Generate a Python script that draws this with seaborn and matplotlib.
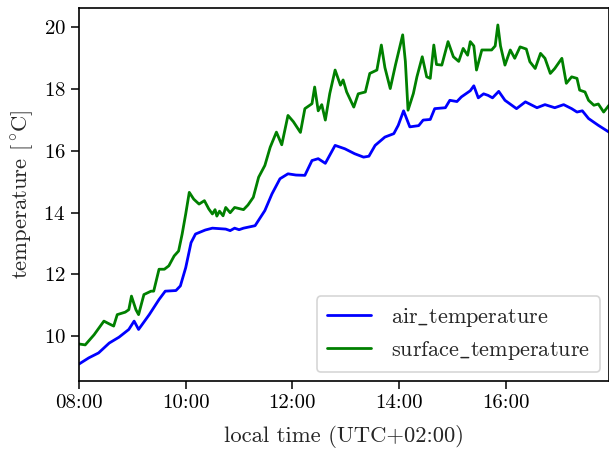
import numpy as np
import pandas as pd
import matplotlib
matplotlib.use("Agg")
import matplotlib.pyplot as plt
import matplotlib.dates as mdates
from matplotlib.ticker import MultipleLocator
import seaborn as sns

# ---- data (minutes after 08:00, temperature in degC) ----
air_minutes = [0, 11, 22, 34, 45, 56, 62, 67, 79, 90, 97, 109, 114, 120, 126, 131,
               142, 150, 165, 170, 175, 180, 185, 198, 209, 217, 226, 235, 244, 254,
               262, 269, 277, 288, 299, 310, 320, 326, 333, 344, 354, 359, 365, 372,
               382, 387, 395, 400, 412, 417, 425, 430, 440, 444, 449, 455, 460, 465,
               472, 479, 492, 502, 515, 524, 535, 545, 554, 560, 566, 573, 584, 596]
air_temperature = [9.10, 9.30, 9.46, 9.78, 9.97, 10.22, 10.49, 10.22, 10.70, 11.19, 11.46,
                   11.48, 11.63, 12.22, 13.03, 13.31, 13.44, 13.50, 13.47, 13.42, 13.50,
                   13.45, 13.50, 13.58, 14.07, 14.61, 15.10, 15.26, 15.22, 15.21, 15.69,
                   15.75, 15.60, 16.18, 16.07, 15.91, 15.80, 15.83, 16.18, 16.45, 16.56,
                   16.83, 17.30, 16.78, 16.82, 17.00, 17.02, 17.37, 17.40, 17.64, 17.60,
                   17.75, 17.95, 18.11, 17.72, 17.85, 17.80, 17.72, 17.93, 17.64, 17.37,
                   17.59, 17.40, 17.50, 17.40, 17.50, 17.37, 17.26, 17.30, 17.05, 16.83,
                   16.61]

surface_minutes = [0, 7, 17, 28, 34, 39, 43, 52, 56, 59, 64, 67, 73, 81, 84, 90, 96, 101,
                   107, 112, 116, 120, 124, 129, 135, 141, 146, 150, 153, 155, 158, 162,
                   165, 170, 175, 185, 190, 196, 202, 209, 215, 222, 228, 235, 241, 249,
                   254, 262, 265, 269, 273, 277, 282, 288, 294, 297, 301, 309, 314, 322,
                   327, 335, 340, 344, 350, 356, 359, 364, 367, 370, 376, 380, 386, 391,
                   395, 399, 402, 408, 415, 421, 427, 432, 437, 440, 444, 447, 453, 464,
                   468, 471, 474, 479, 485, 490, 496, 503, 507, 513, 519, 524, 530, 535,
                   543, 548, 554, 560, 563, 569, 573, 579, 584, 590, 596]
surface_temperature = [9.75, 9.72, 10.05, 10.49, 10.40, 10.33, 10.70, 10.78, 10.86, 11.30,
                       10.86, 10.70, 11.35, 11.46, 11.46, 12.17, 12.17, 12.28, 12.60, 12.76,
                       13.31, 13.96, 14.66, 14.44, 14.28, 14.39, 14.12, 13.96, 14.10, 13.89,
                       14.05, 13.90, 14.17, 14.00, 14.17, 14.10, 14.25, 14.50, 15.15, 15.53,
                       16.12, 16.61, 16.20, 17.15, 16.95, 16.60, 17.37, 17.53, 18.07, 17.30,
                       17.50, 17.00, 17.86, 18.62, 18.13, 18.30, 17.91, 17.42, 17.85, 17.91,
                       18.51, 18.62, 19.43, 18.70, 18.02, 18.80, 19.16, 19.76, 18.90, 17.32,
                       17.86, 18.40, 19.05, 18.40, 18.35, 19.43, 18.80, 18.78, 19.54, 19.05,
                       18.90, 19.32, 19.10, 19.54, 19.40, 18.62, 19.27, 19.27, 19.40, 20.08,
                       19.40, 18.78, 19.27, 19.00, 19.37, 19.30, 18.89, 18.67, 19.16, 19.00,
                       18.51, 18.67, 19.00, 18.19, 18.40, 18.35, 17.97, 17.91, 17.64, 17.48,
                       17.52, 17.26, 17.48]

series_labels = [r"$\mathrm{air\_temperature}$", r"$\mathrm{surface\_temperature}$"]
series_colors = ["#0000ff", "#008000"]

start = pd.Timestamp("2000-01-01 08:00")
df = pd.concat([
    pd.DataFrame({"time": start + pd.to_timedelta(air_minutes, unit="min"),
                  "temperature": air_temperature, "series": series_labels[0]}),
    pd.DataFrame({"time": start + pd.to_timedelta(surface_minutes, unit="min"),
                  "temperature": surface_temperature, "series": series_labels[1]}),
], ignore_index=True)

sns.set_theme(style="ticks")
plt.rcParams["font.family"] = ["cmr10", "DejaVu Serif"]
plt.rcParams["mathtext.fontset"] = "cm"
plt.rcParams["axes.unicode_minus"] = False
plt.rcParams["axes.formatter.use_mathtext"] = True

fig = plt.figure(figsize=(6.09, 4.49), dpi=100)
ax = fig.add_axes([79 / 609, 68 / 449, 530 / 609, 373 / 449])

sns.lineplot(data=df, x="time", y="temperature", hue="series",
             palette=dict(zip(series_labels, series_colors)), linewidth=2.0,
             ax=ax, estimator=None)

ax.set_xlim(df["time"].min(), df["time"].max())
ax.yaxis.set_major_locator(MultipleLocator(2))
ax.xaxis.set_major_locator(mdates.HourLocator(byhour=range(0, 24, 2)))
ax.xaxis.set_major_formatter(mdates.DateFormatter("%H:%M"))

for s in ax.spines.values():
    s.set_linewidth(1.2)
    s.set_color("black")
ax.tick_params(axis="both", labelsize=15, length=6, width=1.1, colors="black",
               direction="out")

ax.set_xlabel("local time (UTC+02:00)", fontsize=16.3, labelpad=9)
ax.set_ylabel(r"temperature [$\mathrm{{}^\circ\!C}$]", fontsize=16.3, labelpad=5)

leg = ax.legend(loc="lower right", fontsize=16, frameon=True, fancybox=True,
                handlelength=2.0, borderpad=0.45, labelspacing=0.45,
                handletextpad=0.9, borderaxespad=0.4)
leg.get_frame().set_edgecolor("#cccccc")
leg.get_frame().set_linewidth(1.2)
leg.set_title(None)

fig.savefig("out.png", dpi=100)
